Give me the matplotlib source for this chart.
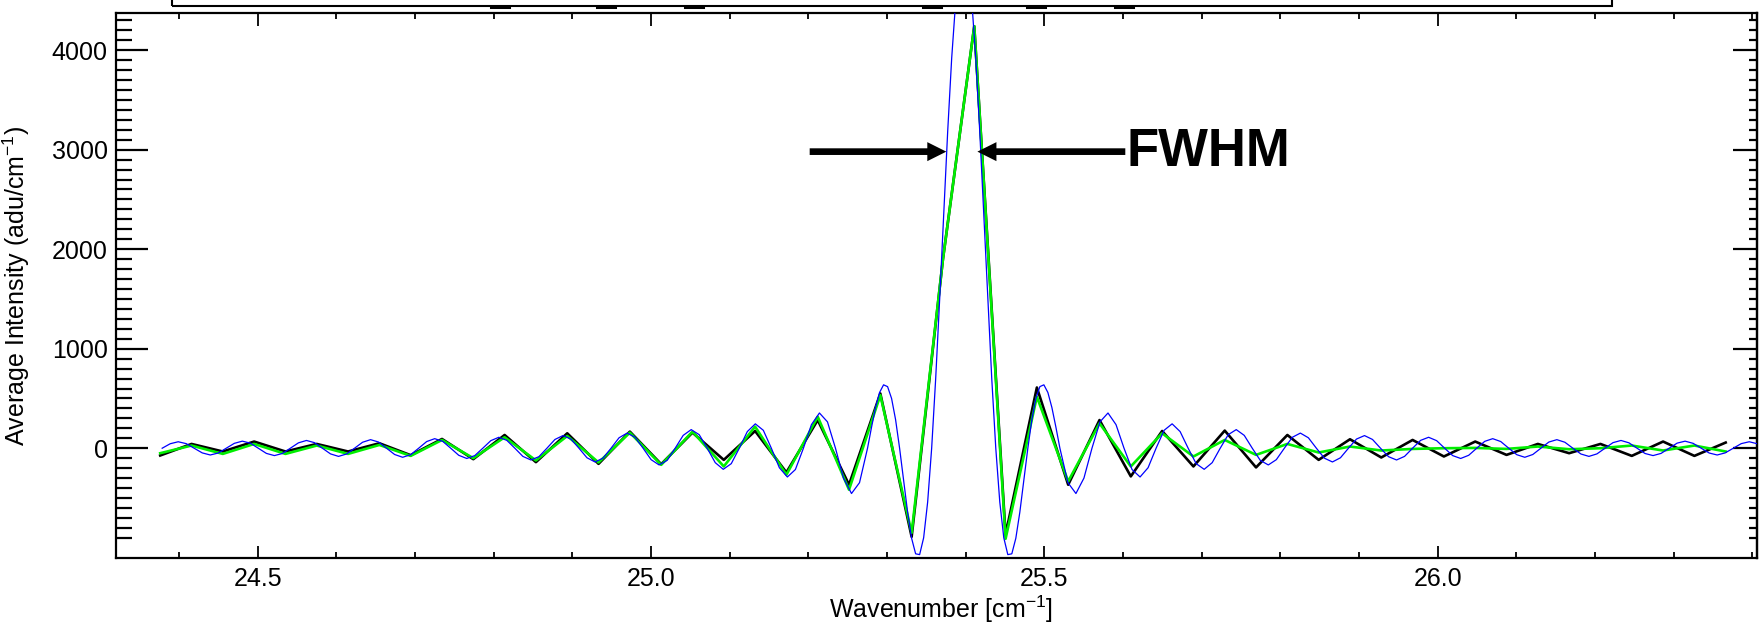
import numpy as np
import matplotlib
matplotlib.use('Agg')
from matplotlib import pyplot as plt
from matplotlib.ticker import FixedLocator, MultipleLocator, FormatStrFormatter
from matplotlib.patches import Rectangle
from matplotlib.lines import Line2D

plt.rcParams['font.family'] = ['Liberation Sans', 'DejaVu Sans']
plt.rcParams['mathtext.default'] = 'regular'

# measured (black) and fitted (green) spectrum, one sample every 0.0398 cm^-1
samp_start = 24.3762
samp_step = 0.0398
black_y = [-73, 43, -33, 67, -33, 43, -33, 50, -70, 93,
           -110, 133, -140, 150, -157, 167, -160, 157, -117, 173,
           -243, 283, -367, 550, -890, 1900, 4240, -867, 610, -367,
           283, -283, 173, -183, 177, -193, 133, -117, 90, -93,
           83, -83, 67, -67, 43, -50, 43, -77, 67, -77, 57]
green_y = [-50, 27, -57, 43, -57, 27, -57, 33, -77, 83,
           -100, 110, -123, 123, -143, 157, -167, 167, -183, 217,
           -267, 317, -417, 533, -850, 1900, 4240, -910, 517, -333,
           250, -183, 150, -83, 83, -67, 43, -43, 17, -23,
           -7, 0, 3, -7, 17, -10, 0, 27, -23, 27, -33]

# ideal line shape (blue), symmetric about its centre; values read outwards from the centre
blue_centre = 25.3976
blue_fine_step = 0.0050945      # first 25 points
blue_coarse_step = 0.010189     # points 13..100 of the coarse grid
blue_fine = [5000, 4873, 4501, 3921, 3183, 2353, 1500, 696, 0, -541,
             -900, -1069, -1061, -905, -643, -325, 0, 287, 500, 619,
             637, 560, 409, 212, 0]
blue_coarse = [-346, -455, -300, 0, 265, 354, 237, 0, -214, -289,
               -196, 0, 180, 245, 167, 0, -155, -212, -145, 0,
               136, 187, 129, 0, -122, -168, -115, 0, 110, 152,
               105, 0, -100, -138, -96, 0, 92, 127, 88, 0,
               -85, -118, -82, 0, 79, 110, 76, 0, -74, -103,
               -71, 0, 69, 96, 67, 0, -65, -91, -63, 0,
               62, 86, 60, 0, -58, -82, -57, 0, 56, 78,
               54, 0, -53, -74, -52, 0, 51, 71, 49, 0,
               -48, -68, -47, 0, 46, 65, 45, 0]

x_ticks = [24.5, 25.0, 25.5, 26.0]
y_ticks = [0, 1000, 2000, 3000, 4000]

samp_x = samp_start + samp_step * np.arange(len(black_y))
half_off = np.concatenate([blue_fine_step * np.arange(len(blue_fine)),
                           blue_coarse_step * np.arange(13, 13 + len(blue_coarse))])
half_val = np.array(blue_fine + blue_coarse)
blue_x = np.concatenate([blue_centre - half_off[::-1], blue_centre + half_off[1:]])
blue_y = np.concatenate([half_val[::-1], half_val[1:]])

W, H = 1759, 622
fig = plt.figure(figsize=(W / 100, H / 100), dpi=100)
ax = fig.add_axes([116 / W, 1 - 557.7 / H, (1757 - 116) / W, (557.7 - 13.3) / H])

ax.plot(samp_x, black_y, color='k', lw=1.9, zorder=2)
ax.plot(samp_x, green_y, color='#00ee00', lw=1.9, zorder=3)
ax.plot(blue_x, blue_y, color='#0000ff', lw=0.9, zorder=4)

ax.set_xlim(24.320, 26.406)
ax.set_ylim(-1100, 4370)

ax.xaxis.set_major_locator(FixedLocator(x_ticks))
ax.xaxis.set_minor_locator(MultipleLocator(0.1))
ax.xaxis.set_major_formatter(FormatStrFormatter('%.1f'))
ax.yaxis.set_major_locator(FixedLocator(y_ticks))
ax.yaxis.set_minor_locator(FixedLocator(np.arange(-900, 4400, 100)))

ax.tick_params(axis='x', which='both', direction='in', top=True, width=1.3,
               labelsize=18, pad=7)
ax.tick_params(axis='x', which='major', length=9)
ax.tick_params(axis='x', which='minor', length=4)
ax.tick_params(axis='y', which='both', direction='in', right=False, width=1.6,
               labelsize=18, pad=6)
ax.tick_params(axis='y', which='major', length=23)
ax.tick_params(axis='y', which='minor', length=11.5)

sec = ax.secondary_yaxis('right')
sec.yaxis.set_major_locator(FixedLocator(y_ticks))
sec.yaxis.set_minor_locator(FixedLocator(np.arange(-900, 4400, 100)))
sec.tick_params(which='both', direction='in', labelright=False, width=1.6)
sec.tick_params(which='major', length=17)
sec.tick_params(which='minor', length=6)

for sp in list(ax.spines.values()) + list(sec.spines.values()):
    sp.set_linewidth(1.6)

ax.set_xlabel('Wavenumber [cm$^{-1}$]', fontsize=18)
ax.xaxis.set_label_coords(0.503, -0.066)
ax.set_ylabel('Average Intensity (adu/cm$^{-1}$)', fontsize=18)
ax.yaxis.set_label_coords(-0.051, 0.5)

# FWHM marker
arrow = dict(arrowstyle='simple,head_length=1.37,head_width=1.37,tail_width=0.48',
             mutation_scale=10, fc='k', ec='none', lw=0, shrinkA=0, shrinkB=0)
ax.annotate('', xy=(25.3755, 2980), xytext=(25.2018, 2980), arrowprops=arrow, zorder=5)
ax.annotate('', xy=(25.4150, 2980), xytext=(25.6030, 2980), arrowprops=arrow, zorder=5)
ax.text(25.604, 2980, 'FWHM', fontsize=38, fontweight='bold', va='center', ha='left')

# bottom edge of a legend box cut off at the top of the picture
fig.add_artist(Rectangle((172 / W, 1 - 5.5 / H), (1612 - 172) / W, 0.1,
                         transform=fig.transFigure, fill=False, ec='k', lw=1.5))
legend_marks_px = [500, 606, 694, 932, 1036, 1124]
for xc in legend_marks_px:
    fig.add_artist(Line2D([(xc - 9) / W, (xc + 9) / W], [1 - 6.8 / H] * 2,
                          transform=fig.transFigure, color='k', lw=2.2))

fig.savefig('out.png', dpi=100)
